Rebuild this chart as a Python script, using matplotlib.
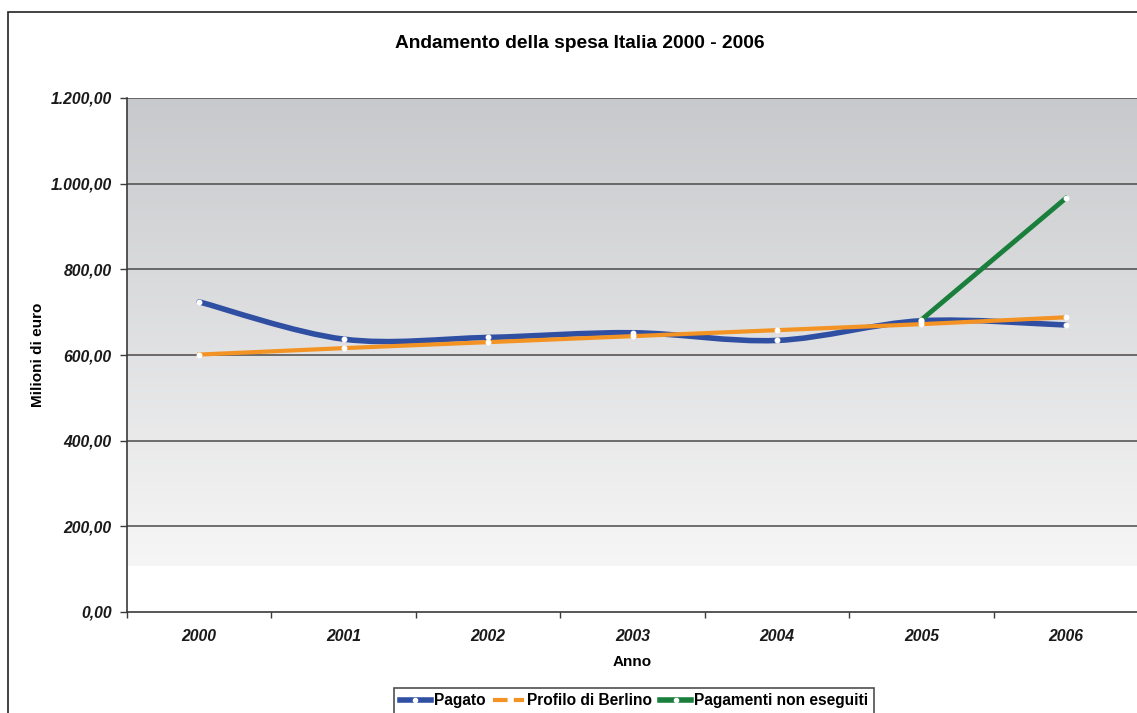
import numpy as np
import matplotlib
matplotlib.use("Agg")
import matplotlib.pyplot as plt
from matplotlib.path import Path
from matplotlib.patches import PathPatch, Rectangle
from matplotlib.lines import Line2D
from matplotlib.ticker import FixedLocator, FuncFormatter

plt.rcParams['font.family'] = ['Liberation Sans', 'DejaVu Sans']

anni = ['2000', '2001', '2002', '2003', '2004', '2005', '2006']
pagato = [724, 637, 641, 652, 634, 680, 670]
profilo_berlino = [601, 616, 630, 644, 658, 672, 688]
non_eseguiti_anni = [5, 6]
non_eseguiti = [682, 966]

BLUE = '#2F4FA2'
ORANGE = '#F39323'
GREEN = '#1A7F3C'

W, H = 1137, 713
fig = plt.figure(figsize=(W / 100, H / 100), dpi=100)
fig.patch.set_facecolor('white')

# outer frame of the chart area
fig.add_artist(Rectangle((8 / W, -0.1), 1.2, 1 - 12 / H + 0.1,
                         transform=fig.transFigure, fill=False,
                         edgecolor='#222222', linewidth=1.2))

ax = fig.add_axes([127 / W, 1 - 612 / H, (1138 - 127) / W, (612 - 98) / H])
ax.set_xlim(-0.5, 6.5)
ax.set_ylim(0, 1200)
ax.set_facecolor('white')

# vertical gradient background (dark grey at top, fading to near white)
grad = np.linspace(0, 1, 256).reshape(-1, 1)
top = np.array([200, 201, 204]) / 255
bot = np.array([246, 246, 246]) / 255
img = top[None, None, :] * (1 - grad[..., None]) + bot[None, None, :] * grad[..., None]
ax.imshow(img, extent=(-0.5, 6.5, 107, 1200), aspect='auto', origin='upper',
          zorder=0, interpolation='bilinear')

# gridlines
for v in range(200, 1201, 200):
    ax.axhline(v, color='#4a4a4a', linewidth=1.1, zorder=1)

# smoothed line (cubic Bezier segments through the points)
def smooth_path(xs, ys):
    pts = np.column_stack([xs, ys]).astype(float)
    n = len(pts)
    verts = [pts[0]]
    codes = [Path.MOVETO]
    for i in range(n - 1):
        p0 = pts[i - 1] if i > 0 else pts[i]
        p1 = pts[i]
        p2 = pts[i + 1]
        p3 = pts[i + 2] if i + 2 < n else pts[i + 1]
        c1 = p1 + (p2 - p0) / 6.0
        c2 = p2 - (p3 - p1) / 6.0
        verts += [c1, c2, p2]
        codes += [Path.CURVE4] * 3
    return Path(verts, codes)

x = np.arange(len(anni))
ax.add_patch(PathPatch(smooth_path(x, pagato), facecolor='none', edgecolor=BLUE,
                       linewidth=4, capstyle='round', zorder=3))
ax.plot(x, profilo_berlino, color=ORANGE, linewidth=3, zorder=4)
ax.plot(non_eseguiti_anni, non_eseguiti, color=GREEN, linewidth=3.5, zorder=5)

mk = dict(linestyle='none', marker='o', markersize=3.2, markerfacecolor='white',
          markeredgecolor='white', zorder=6)
ax.plot(x, pagato, **mk)
ax.plot(x, profilo_berlino, **mk)
ax.plot(non_eseguiti_anni, non_eseguiti, **mk)

# axes styling
for s in ['top', 'right']:
    ax.spines[s].set_visible(False)
for s in ['left', 'bottom']:
    ax.spines[s].set_color('#3a3a3a')
    ax.spines[s].set_linewidth(1.2)

ax.yaxis.set_major_locator(FixedLocator(range(0, 1201, 200)))
ax.yaxis.set_major_formatter(FuncFormatter(
    lambda v, p: f"{v:,.2f}".replace(',', 'X').replace('.', ',').replace('X', '.')))
ax.tick_params(axis='y', direction='out', length=5, width=1, color='#3a3a3a', pad=6)
for t in ax.get_yticklabels():
    t.set_fontweight('bold')
    t.set_fontstyle('italic')
    t.set_fontsize(11.3)
    t.set_color('#1a1a1a')

ax.set_xticks(x)
ax.set_xticklabels(anni, fontsize=11.3, fontweight='bold', fontstyle='italic', color='#1a1a1a')
ax.set_xticks(np.arange(-0.5, 6.6, 1), minor=True)
ax.tick_params(axis='x', which='major', length=0, pad=12)
ax.tick_params(axis='x', which='minor', direction='out', length=4, width=1, color='#3a3a3a')

ax.set_ylabel('Milioni di euro', fontsize=11, fontweight='bold', labelpad=4)
ax.set_xlabel('Anno', fontsize=11, fontweight='bold', labelpad=8)

fig.text(580 / W, 1 - 43 / H, 'Andamento della spesa Italia 2000 - 2006',
         ha='center', va='center', fontsize=13.8, fontweight='bold')

handles = [
    Line2D([], [], color=BLUE, linewidth=4, marker='o', markersize=3,
           markerfacecolor='white', markeredgecolor='white'),
    Line2D([], [], color=ORANGE, linewidth=3, linestyle=(0, (3.5, 1.5))),
    Line2D([], [], color=GREEN, linewidth=4, marker='o', markersize=3,
           markerfacecolor='white', markeredgecolor='white'),
]
leg = fig.legend(handles, ['Pagato', 'Profilo di Berlino', 'Pagamenti non eseguiti'],
                 loc='upper center', bbox_to_anchor=(634 / W, 1 - 688 / H), ncol=3,
                 frameon=True, fancybox=False, edgecolor='#222222',
                 prop={'weight': 'bold', 'size': 11.2}, handlelength=2.0,
                 handletextpad=0.2, columnspacing=0.5, borderpad=0.35,
                 borderaxespad=0, numpoints=1)
leg.get_frame().set_linewidth(1.2)

fig.savefig('out.png', dpi=100, facecolor='white')
